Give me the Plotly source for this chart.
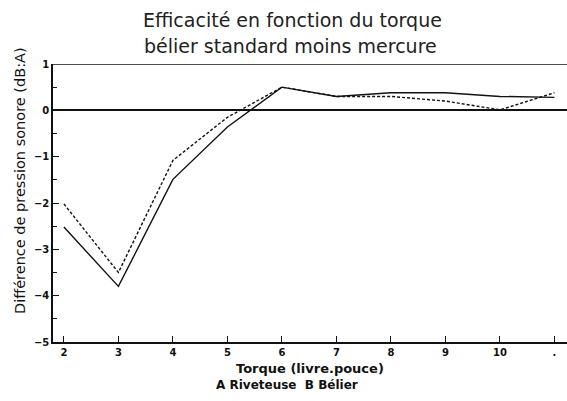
import plotly.graph_objects as go

torque = [2, 3, 4, 5, 6, 7, 8, 9, 10, 11]
riveteuse = [-2.52, -3.8, -1.49, -0.36, 0.5, 0.3, 0.38, 0.38, 0.3, 0.28]
belier = [-2.02, -3.5, -1.08, -0.15, 0.5, 0.3, 0.3, 0.2, 0.01, 0.38]
x_ticks = [2, 3, 4, 5, 6, 7, 8, 9, 10, 11]
x_labels = ["2", "3", "4", "5", "6", "7", "8", "9", "10", "."]
y_ticks = [1, 0, -1, -2, -3, -4, -5]

FONT = "DejaVu Sans"
INK = "#111111"

fig = go.Figure()
fig.add_trace(go.Scatter(x=torque, y=riveteuse, mode="lines", name="A Riveteuse",
                         line=dict(color=INK, width=1.4)))
fig.add_trace(go.Scatter(x=torque, y=belier, mode="lines", name="B Bélier",
                         line=dict(color=INK, width=1.4, dash="3px,2px")))

fig.update_layout(
    width=567, height=401,
    margin=dict(l=53, r=0, t=64, b=59),
    paper_bgcolor="white", plot_bgcolor="white",
    showlegend=False,
    font=dict(family=FONT, color=INK),
    xaxis=dict(range=[1.8, 11.23], tickvals=x_ticks, ticktext=x_labels,
               ticks="inside", ticklen=6, tickcolor=INK, tickwidth=1,
               showgrid=False, zeroline=False, showline=True, linecolor=INK, linewidth=1.5,
               tickfont=dict(family=FONT, size=10, color=INK, weight="bold")),
    yaxis=dict(range=[-5, 1], tickvals=y_ticks,
               ticks="inside", ticklen=6, tickcolor=INK, tickwidth=1,
               minor=dict(dtick=0.5, ticks="inside", ticklen=4, tickcolor=INK, showgrid=False),
               showgrid=False, zeroline=True, zerolinecolor=INK, zerolinewidth=1.5,
               showline=True, linecolor=INK, linewidth=1.5,
               tickfont=dict(family=FONT, size=10, color=INK, weight="bold")),
)

fig.add_shape(type="line", xref="paper", yref="y", x0=0, x1=1, y0=1, y1=1,
              line=dict(color=INK, width=1.5))

def text_px(txt, cx, cy, size, weight="normal", angle=0, color=INK):
    fig.add_annotation(text=txt, xref="paper", yref="paper",
                       x=(cx - 53) / 514, y=(401 - 59 - cy) / 278,
                       xanchor="center", yanchor="middle", showarrow=False, textangle=angle,
                       font=dict(family=FONT, size=size, color=color, weight=weight))

text_px("Efficacité en fonction du torque", 292, 20, 19, color="#222222")
text_px("bélier standard moins mercure", 290, 46, 19, color="#222222")
text_px("Torque (livre.pouce)", 310, 368, 13, weight="bold")
text_px("A Riveteuse  B Bélier", 287, 385, 12, weight="bold")
text_px("Différence de pression sonore (dB:A)", 20, 181, 14.5, angle=-90)

fig.write_html("out.html")
